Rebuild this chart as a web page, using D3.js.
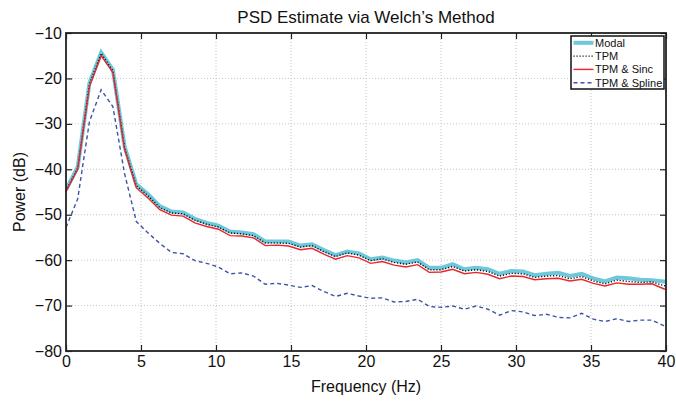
<!DOCTYPE html>
<html>
<head>
<meta charset="utf-8">
<script src="https://cdn.jsdelivr.net/npm/d3@7"></script>
<style>
  body { margin: 0; background: #fff; }
  svg { font-family: "Liberation Sans", Arial, sans-serif; }
</style>
</head>
<body>
<div id="chart"></div>
<script>
// bin spacing 0.78125 Hz
const freq = d3.range(53).map(k => k * 0.78125);

const modal = [-44.5, -39.5, -21.0, -14.3, -18.1, -35.0, -43.3, -45.5, -48.1, -49.3,
  -49.5, -50.9, -51.8, -52.4, -53.7, -53.9, -54.3, -55.9, -55.9, -55.9,
  -56.8, -56.5, -57.8, -58.9, -58.1, -58.5, -59.8, -59.4, -60.1, -60.5,
  -60.0, -61.7, -61.7, -60.9, -62.0, -61.7, -62.0, -63.0, -62.4, -62.5,
  -63.3, -63.0, -62.8, -63.5, -63.0, -64.0, -64.7, -63.8, -64.0, -64.3,
  -64.4, -64.7, -65.0];

const tpm = [-44.7, -39.7, -21.2, -14.5, -18.3, -35.2, -43.6, -45.8, -48.4, -49.6,
  -49.8, -51.2, -52.1, -52.7, -54.0, -54.2, -54.6, -56.2, -56.2, -56.3,
  -57.1, -56.8, -58.1, -59.2, -58.4, -58.9, -60.1, -59.7, -60.5, -60.9,
  -60.4, -62.1, -62.1, -61.4, -62.4, -62.1, -62.5, -63.5, -62.9, -63.0,
  -63.8, -63.5, -63.4, -64.1, -63.6, -64.6, -65.2, -64.4, -64.7, -64.9,
  -64.8, -65.6, -66.2];

const sinc = [-44.9, -40.0, -21.8, -15.0, -18.7, -35.6, -44.1, -46.3, -48.9, -50.1,
  -50.3, -51.8, -52.6, -53.2, -54.6, -54.7, -55.1, -56.8, -56.7, -56.9,
  -57.7, -57.4, -58.7, -59.8, -59.0, -59.5, -60.7, -60.3, -61.1, -61.5,
  -61.0, -62.7, -62.6, -62.0, -63.0, -62.7, -63.1, -64.1, -63.5, -63.6,
  -64.3, -64.1, -64.0, -64.6, -64.2, -65.1, -65.7, -65.0, -65.3, -65.3,
  -65.2, -66.3, -67.0];

const spline = [-52.8, -46.5, -29.5, -22.5, -26.2, -41.0, -51.5, -54.0, -56.3, -58.3,
  -58.6, -60.1, -60.7, -61.5, -63.0, -62.8, -63.5, -65.3, -65.1, -65.5,
  -66.0, -65.6, -66.9, -68.0, -67.3, -67.9, -68.4, -68.3, -69.2, -69.1,
  -68.6, -70.2, -70.4, -70.1, -70.8, -70.1, -70.8, -72.1, -71.1, -71.4,
  -72.2, -71.9, -72.6, -72.7, -71.7, -73.0, -73.5, -72.9, -73.5, -73.2,
  -73.2, -74.4, -75.0];

const seriesNames = ["Modal", "TPM", "TPM & Sinc", "TPM & Spline"];
const xTicks = [0, 5, 10, 15, 20, 25, 30, 35, 40];
const yTicks = [-80, -70, -60, -50, -40, -30, -20, -10];

const width = 676, height = 402,
  margin = { top: 33, right: 10, bottom: 51, left: 66 };

const styles = [
  { color: "#6ec8db", w: 4, dash: null },
  { color: "#111", w: 1.4, dash: "1.2,1.8" },
  { color: "#e8262c", w: 1.4, dash: null },
  { color: "#3b54a6", w: 1.4, dash: "4,3" }
];

const svg = d3.select("#chart").append("svg")
  .attr("width", width).attr("height", height);

const x = d3.scaleLinear().domain([0, 40]).range([margin.left, width - margin.right]);
const y = d3.scaleLinear().domain([-80, -10]).range([height - margin.bottom, margin.top]);

// grid
const grid = svg.append("g")
  .attr("stroke", "#c4c4c4").attr("stroke-width", 1).attr("stroke-dasharray", "1,2");
grid.selectAll(".gx").data(xTicks.slice(1, -1)).join("line")
  .attr("x1", d => x(d)).attr("x2", d => x(d))
  .attr("y1", y(-10)).attr("y2", y(-80));
grid.selectAll(".gy").data(yTicks.slice(1, -1)).join("line")
  .attr("x1", x(0)).attr("x2", x(40))
  .attr("y1", d => y(d)).attr("y2", d => y(d));

// lines
svg.append("clipPath").attr("id", "clip").append("rect")
  .attr("x", x(0)).attr("y", y(-10))
  .attr("width", x(40) - x(0)).attr("height", y(-80) - y(-10));

const line = d3.line().x((d, i) => x(freq[i])).y(d => y(d));
const allSeries = [modal, tpm, sinc, spline];

svg.append("g").attr("clip-path", "url(#clip)")
  .selectAll("path").data(allSeries).join("path")
  .attr("d", line)
  .attr("fill", "none")
  .attr("stroke", (d, i) => styles[i].color)
  .attr("stroke-width", (d, i) => styles[i].w)
  .attr("stroke-dasharray", (d, i) => styles[i].dash)
  .attr("stroke-linejoin", "miter");

// axes, ticks inward on all sides
const fmt = d3.format("d");
svg.append("g").attr("transform", `translate(0,${y(-80)})`)
  .call(d3.axisBottom(x).tickValues(xTicks).tickFormat(fmt).tickSize(-6).tickPadding(5));
svg.append("g").attr("transform", `translate(0,${y(-10)})`)
  .call(d3.axisTop(x).tickValues(xTicks).tickFormat("").tickSize(-6));
svg.append("g").attr("transform", `translate(${x(0)},0)`)
  .call(d3.axisLeft(y).tickValues(yTicks).tickFormat(fmt).tickSize(-6).tickPadding(4));
svg.append("g").attr("transform", `translate(${x(40)},0)`)
  .call(d3.axisRight(y).tickValues(yTicks).tickFormat("").tickSize(-6));

svg.selectAll(".domain").remove();
svg.selectAll(".tick line").attr("stroke", "#222").attr("stroke-width", 1.2);
svg.selectAll(".tick text").attr("font-size", 16).attr("fill", "#111")
  .attr("font-family", "Liberation Sans, Arial, sans-serif");

svg.append("rect")
  .attr("x", x(0)).attr("y", y(-10))
  .attr("width", x(40) - x(0)).attr("height", y(-80) - y(-10))
  .attr("fill", "none").attr("stroke", "#222").attr("stroke-width", 1.8);

// labels
svg.append("text").attr("x", (x(0) + x(40)) / 2).attr("y", 22.5)
  .attr("text-anchor", "middle").attr("font-size", 17).attr("fill", "#111")
  .text("PSD Estimate via Welch’s Method");
svg.append("text").attr("x", (x(0) + x(40)) / 2).attr("y", 392)
  .attr("text-anchor", "middle").attr("font-size", 16).attr("fill", "#111")
  .text("Frequency (Hz)");
svg.append("text")
  .attr("transform", `translate(24.5,${(y(-10) + y(-80)) / 2}) rotate(-90)`)
  .attr("text-anchor", "middle").attr("font-size", 16).attr("fill", "#111")
  .text("Power (dB)");

// legend
const lg = svg.append("g").attr("transform", "translate(571,36)");
lg.append("rect").attr("width", 93).attr("height", 53)
  .attr("fill", "#fff").attr("stroke", "#111").attr("stroke-width", 1.5);
const row = lg.selectAll(".row").data(seriesNames).join("g")
  .attr("transform", (d, i) => `translate(0,${6.8 + i * 13.3})`);
row.append("line").attr("x1", 2.5).attr("x2", 22.5)
  .attr("stroke", (d, i) => styles[i].color)
  .attr("stroke-width", (d, i) => i === 0 ? 4 : 1.4)
  .attr("stroke-dasharray", (d, i) => styles[i].dash);
row.append("text").attr("x", 24).attr("dy", "0.36em")
  .attr("font-size", 11).attr("fill", "#111").text(d => d);
</script>
</body>
</html>
